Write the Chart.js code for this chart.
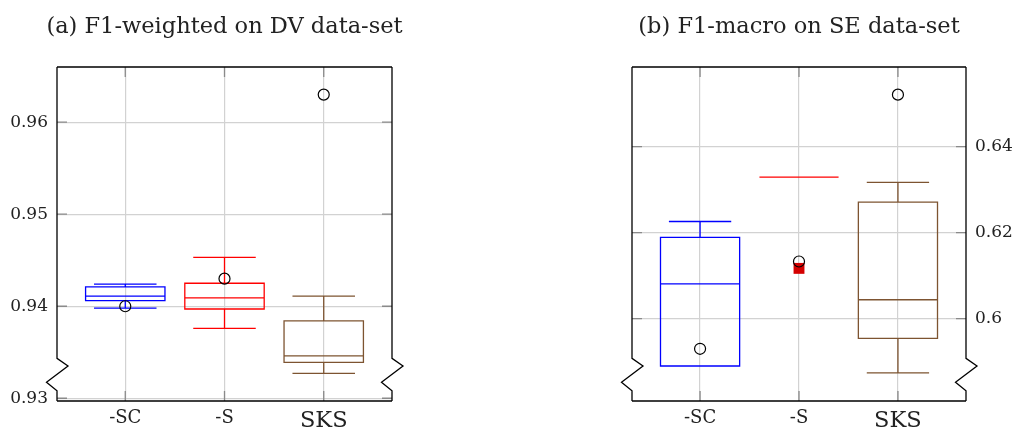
<!DOCTYPE html>
<html lang="en">
<head>
<meta charset="utf-8">
<title>F1 box plots</title>
<script src="https://cdn.jsdelivr.net/npm/chart.js"></script>
<style>
  body { margin: 0; background: #fff; overflow: hidden; }
  #wrap { position: relative; width: 1016px; height: 430px; }
  .pane { position: absolute; top: 0; height: 430px; }
</style>
</head>
<body>
<div id="wrap">
  <div class="pane" style="left:0; width:449px"><canvas id="chartDV"></canvas></div>
  <div class="pane" style="left:582px; width:434px"><canvas id="chartSE"></canvas></div>
</div>
<script>
const categories = ['-SC', '-S', 'SKS'];
const boxColors = ['#0000ff', '#ff0000', '#7d5431'];

// (a) DV data-set, F1-weighted
const dvMin = [0.9398, 0.9376, 0.9327];
const dvQ1 = [0.9406, 0.9397, 0.9339];
const dvMedian = [0.9411, 0.9409, 0.9346];
const dvQ3 = [0.9421, 0.9425, 0.9384];
const dvMax = [0.9424, 0.9453, 0.9411];
const dvOutliers = [0.9400, 0.9430, 0.9630];
const dvTicks = [0.93, 0.94, 0.95, 0.96];

// (b) SE data-set, F1-macro
const seMin = [0.5890, 0.6329, 0.5874];
const seQ1 = [0.5890, 0.6329, 0.5954];
const seMedian = [0.6081, 0.6329, 0.6044];
const seQ3 = [0.6189, 0.6329, 0.6271];
const seMax = [0.6226, 0.6329, 0.6317];
const seOutliers = [0.5930, 0.6133, 0.6521];
const seMarks = [null, 0.6117, null];
const seTicks = [0.6, 0.62, 0.64];

const serif = 'DejaVu Serif';

// boxes, whiskers and the small filled marks, drawn from the scales
const boxPlugin = {
  id: 'boxes',
  beforeDatasetsDraw(chart, args, opts) {
    const ctx = chart.ctx;
    const xs = chart.scales.x, ys = chart.scales.y;
    const s = opts.stats;
    ctx.save();
    ctx.lineWidth = 1.3;
    for (let i = 0; i < categories.length; i++) {
      const x = i + 1;
      const l = xs.getPixelForValue(x - 0.4), r = xs.getPixelForValue(x + 0.4);
      const cl = xs.getPixelForValue(x - 0.315), cr = xs.getPixelForValue(x + 0.315);
      const cx = xs.getPixelForValue(x);
      const yMin = ys.getPixelForValue(s.min[i]);
      const yQ1 = ys.getPixelForValue(s.q1[i]);
      const yMed = ys.getPixelForValue(s.median[i]);
      const yQ3 = ys.getPixelForValue(s.q3[i]);
      const yMax = ys.getPixelForValue(s.max[i]);
      ctx.strokeStyle = boxColors[i];
      ctx.beginPath();
      ctx.rect(l, yQ3, r - l, yQ1 - yQ3);
      ctx.moveTo(l, yMed); ctx.lineTo(r, yMed);
      if (s.max[i] > s.q3[i]) {
        ctx.moveTo(cx, yQ3); ctx.lineTo(cx, yMax);
        ctx.moveTo(cl, yMax); ctx.lineTo(cr, yMax);
      }
      if (s.min[i] < s.q1[i]) {
        ctx.moveTo(cx, yQ1); ctx.lineTo(cx, yMin);
        ctx.moveTo(cl, yMin); ctx.lineTo(cr, yMin);
      }
      ctx.stroke();
      if (s.marks && s.marks[i] != null) {
        const ml = xs.getPixelForValue(x - 0.055), mr = xs.getPixelForValue(x + 0.055);
        const my = ys.getPixelForValue(s.marks[i]);
        const h = mr - ml;
        ctx.fillStyle = '#d40000';
        ctx.fillRect(ml, my - h / 2, h, h);
      }
    }
    ctx.restore();
  },
  afterDraw(chart) {
    const ctx = chart.ctx;
    const a = chart.chartArea;
    const xs = chart.scales.x, ys = chart.scales.y;
    ctx.save();
    // tick marks, inside, on every side
    ctx.strokeStyle = '#8a8a8a';
    ctx.lineWidth = 1.3;
    ctx.beginPath();
    ys.ticks.forEach(t => {
      const y = ys.getPixelForValue(t.value);
      ctx.moveTo(a.left, y); ctx.lineTo(a.left + 10, y);
      ctx.moveTo(a.right, y); ctx.lineTo(a.right - 10, y);
    });
    xs.ticks.forEach(t => {
      const x = xs.getPixelForValue(t.value);
      ctx.moveTo(x, a.bottom); ctx.lineTo(x, a.bottom - 10);
      ctx.moveTo(x, a.top); ctx.lineTo(x, a.top + 10);
    });
    ctx.stroke();
    // frame with axis-break zigzags on both sides
    ctx.strokeStyle = '#000';
    ctx.lineWidth = 1.3;
    ctx.beginPath();
    [a.left, a.right].forEach(x => {
      ctx.moveTo(x, a.top);
      ctx.lineTo(x, a.bottom - 42.7);
      ctx.lineTo(x + 11, a.bottom - 35);
      ctx.lineTo(x - 10.5, a.bottom - 18.7);
      ctx.lineTo(x, a.bottom - 10.3);
      ctx.lineTo(x, a.bottom);
    });
    ctx.moveTo(a.left, a.top); ctx.lineTo(a.right, a.top);
    ctx.moveTo(a.left, a.bottom); ctx.lineTo(a.right, a.bottom);
    ctx.stroke();
    ctx.restore();
  }
};

function makeChart(id, cfg) {
  return new Chart(document.getElementById(id), {
    type: 'scatter',
    data: {
      datasets: [{
        data: cfg.outliers.map((v, i) => ({ x: i + 1, y: v })),
        pointStyle: 'circle',
        pointRadius: 5.5,
        pointBorderWidth: 1.2,
        pointBorderColor: '#000',
        pointBackgroundColor: 'rgba(0,0,0,0)',
        showLine: false
      }]
    },
    options: {
      responsive: true,
      maintainAspectRatio: false,
      animation: false,
      plugins: {
        legend: { display: false },
        tooltip: { enabled: false },
        title: {
          display: true,
          text: cfg.title,
          color: '#222',
          font: { family: serif, size: 22.5, weight: 'normal' },
          padding: { top: 13.5, bottom: 26.5 }
        },
        boxes: { stats: cfg.stats }
      },
      scales: {
        x: {
          type: 'linear',
          min: 0.312,
          max: 3.688,
          afterBuildTicks: s => { s.ticks = categories.map((c, i) => ({ value: i + 1 })); },
          afterFit: s => { s.height = 29; },
          border: { display: false },
          grid: { color: '#d2d2d2', lineWidth: 1.2, drawTicks: false },
          ticks: {
            autoSkip: false,
            maxRotation: 0,
            padding: 7,
            color: '#222',
            font: c => ({ family: serif, size: c.index === 2 ? 22.5 : 18 }),
            callback: v => categories[Math.round(v) - 1]
          }
        },
        y: {
          type: 'linear',
          position: cfg.yPos,
          min: cfg.yMin,
          max: cfg.yMax,
          afterBuildTicks: s => { s.ticks = cfg.ticks.map(v => ({ value: v })); },
          afterFit: s => { s.width = cfg.yWidth; },
          border: { display: false },
          grid: { color: '#d2d2d2', lineWidth: 1.2, drawTicks: false },
          ticks: {
            padding: 9,
            color: '#222',
            font: { family: serif, size: 17 },
            callback: v => String(v)
          }
        },
        // empty axis on the other side, so the title centres over the plot
        spacer: {
          type: 'linear',
          position: cfg.yPos === 'left' ? 'right' : 'left',
          afterFit: s => { s.width = cfg.spacerWidth; },
          border: { display: false },
          grid: { display: false, drawTicks: false },
          ticks: { display: false }
        }
      }
    },
    plugins: [boxPlugin]
  });
}

makeChart('chartDV', {
  title: '(a) F1-weighted on DV data-set',
  outliers: dvOutliers,
  ticks: dvTicks,
  yMin: 0.9297, yMax: 0.9660,
  yPos: 'left', yWidth: 57, spacerWidth: 57,
  stats: { min: dvMin, q1: dvQ1, median: dvMedian, q3: dvQ3, max: dvMax }
});

makeChart('chartSE', {
  title: '(b) F1-macro on SE data-set',
  outliers: seOutliers,
  ticks: seTicks,
  yMin: 0.58086, yMax: 0.65853,
  yPos: 'right', yWidth: 50, spacerWidth: 50,
  stats: { min: seMin, q1: seQ1, median: seMedian, q3: seQ3, max: seMax, marks: seMarks }
});
</script>
</body>
</html>
